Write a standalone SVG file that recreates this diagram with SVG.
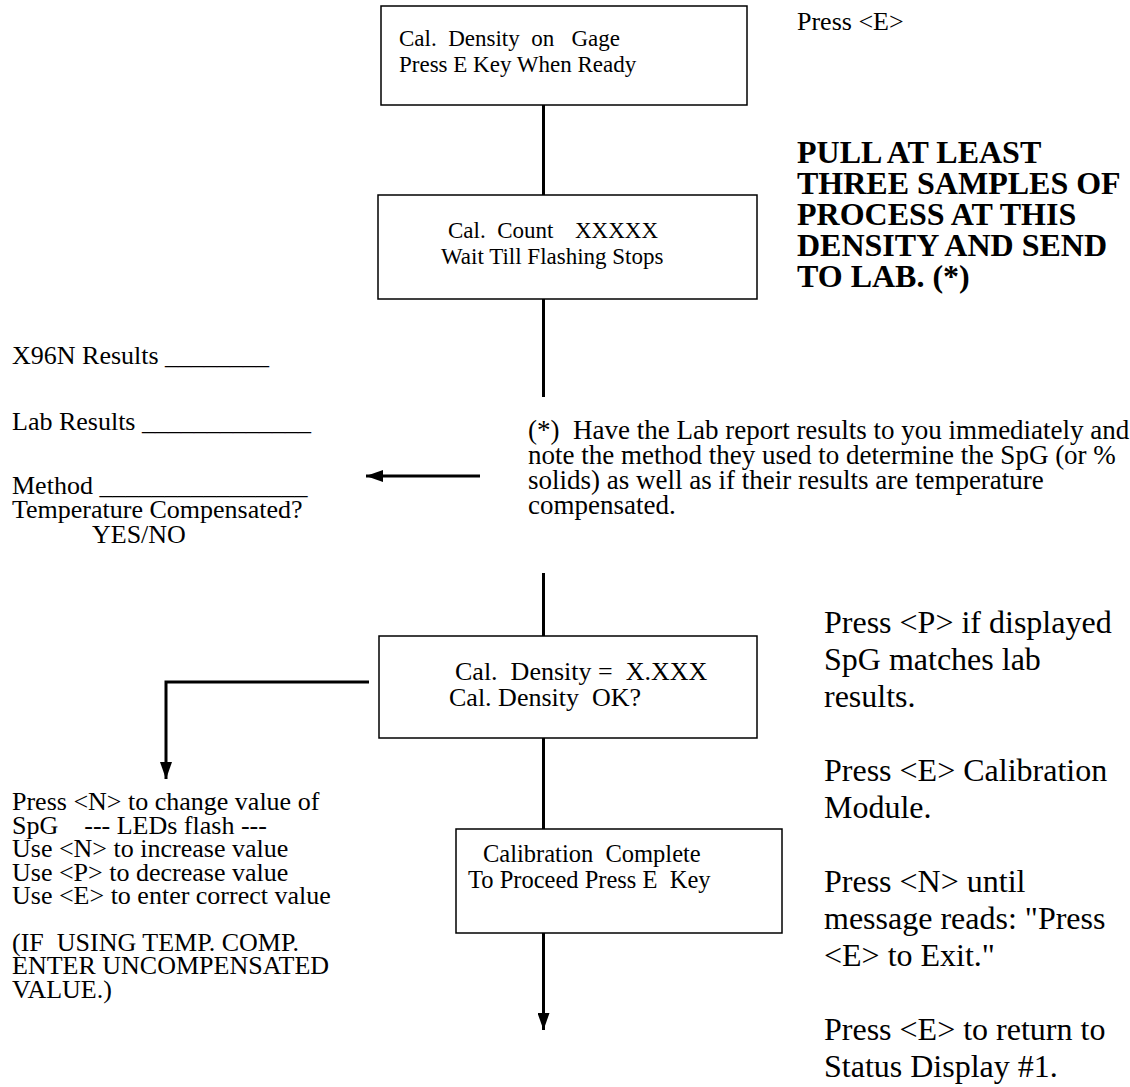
<svg xmlns="http://www.w3.org/2000/svg" width="1130" height="1087" viewBox="0 0 1130 1087">
  <style>
    text { font-family: "Liberation Serif", "Times New Roman", serif; fill: #000; }
    .box { fill: #fff; stroke: #000; stroke-width: 1.5; }
    .s23 { font-size: 23px; }
    .s24 { font-size: 24.5px; }
    .s26 { font-size: 26px; }
    .note { font-size: 26px; }
    .lab { font-size: 27px; }
    .big { font-size: 32px; }
    .bold { font-size: 32px; font-weight: bold; }
    .wire { fill: none; stroke: #000; stroke-width: 3; }
  </style>
  <defs>
    <marker id="head" markerWidth="18" markerHeight="12" refX="17" refY="6" orient="auto" markerUnits="userSpaceOnUse">
      <path d="M0,0 L17,6 L0,12 z" fill="#000"/>
    </marker>
  </defs>

  <rect width="1130" height="1087" fill="#fff"/>

  <!-- connectors -->
  <g id="connectors">
    <line class="wire" x1="543.5" y1="105" x2="543.5" y2="195"/>
    <line class="wire" x1="543.5" y1="299" x2="543.5" y2="397"/>
    <line class="wire" x1="543.5" y1="573" x2="543.5" y2="636"/>
    <line class="wire" x1="543.5" y1="738" x2="543.5" y2="829"/>
    <path class="wire" d="M543.5,933 V1030" marker-end="url(#head)"/>
    <path class="wire" d="M369,682 H166 V779" marker-end="url(#head)"/>
    <path class="wire" d="M480,476 H366" marker-end="url(#head)"/>
  </g>

  <!-- display screens -->
  <g id="node-start">
    <rect class="box" x="381" y="6" width="366" height="99"/>
    <text class="s23" x="399" y="46" xml:space="preserve">Cal.  Density  on   Gage</text>
    <text class="s23" x="399" y="72">Press E Key When Ready</text>
  </g>

  <g id="node-count">
    <rect class="box" x="378" y="195" width="379" height="104"/>
    <text class="s23" y="238" xml:space="preserve"><tspan x="448">Cal.  Count</tspan><tspan x="575">XXXXX</tspan></text>
    <text class="s23" x="441" y="264">Wait Till Flashing Stops</text>
  </g>

  <g id="node-density">
    <rect class="box" x="379" y="636" width="378" height="102"/>
    <text class="s26" x="455" y="680" xml:space="preserve">Cal.  Density =  X.XXX</text>
    <text class="s26" x="449" y="706" xml:space="preserve">Cal. Density  OK?</text>
  </g>

  <g id="node-complete">
    <rect class="box" x="456" y="829" width="326" height="104"/>
    <text class="s24" x="483" y="862" xml:space="preserve">Calibration  Complete</text>
    <text class="s24" x="468" y="888" xml:space="preserve">To Proceed Press E  Key</text>
  </g>

  <!-- instructions on the right -->
  <g id="note-press-e">
    <text class="note" x="797" y="30">Press &lt;E&gt;</text>
  </g>

  <g id="note-samples">
    <text class="bold" x="797" y="163">PULL AT LEAST</text>
    <text class="bold" x="797" y="194">THREE SAMPLES OF</text>
    <text class="bold" x="797" y="225">PROCESS AT THIS</text>
    <text class="bold" x="797" y="256">DENSITY AND SEND</text>
    <text class="bold" x="797" y="287">TO LAB. (*)</text>
  </g>

  <g id="note-lab">
    <text class="lab" x="528" y="439" xml:space="preserve">(*)  Have the Lab report results to you immediately and</text>
    <text class="lab" x="528" y="464">note the method they used to determine the SpG (or %</text>
    <text class="lab" x="528" y="489">solids) as well as if their results are temperature</text>
    <text class="lab" x="528" y="514">compensated.</text>
  </g>

  <g id="note-keys">
    <text class="big" x="824" y="633">Press &lt;P&gt; if displayed</text>
    <text class="big" x="824" y="670">SpG matches lab</text>
    <text class="big" x="824" y="707">results.</text>
    <text class="big" x="824" y="781">Press &lt;E&gt; Calibration</text>
    <text class="big" x="824" y="818">Module.</text>
    <text class="big" x="824" y="892">Press &lt;N&gt; until</text>
    <text class="big" x="824" y="929">message reads: "Press</text>
    <text class="big" x="824" y="966">&lt;E&gt; to Exit."</text>
    <text class="big" x="824" y="1040">Press &lt;E&gt; to return to</text>
    <text class="big" x="824" y="1077">Status Display #1.</text>
  </g>

  <!-- record sheet on the left -->
  <g id="note-results">
    <text class="note" x="12" y="364">X96N Results ________</text>
    <text class="note" x="12" y="430">Lab Results _____________</text>
    <text class="note" x="12" y="494">Method ________________</text>
    <text class="note" x="12" y="518">Temperature Compensated?</text>
    <text class="note" x="92" y="543">YES/NO</text>
  </g>

  <g id="note-change">
    <text class="note" x="12" y="810">Press &lt;N&gt; to change value of</text>
    <text class="note" x="12" y="834" xml:space="preserve">SpG    --- LEDs flash ---</text>
    <text class="note" x="12" y="857">Use &lt;N&gt; to increase value</text>
    <text class="note" x="12" y="881">Use &lt;P&gt; to decrease value</text>
    <text class="note" x="12" y="904">Use &lt;E&gt; to enter correct value</text>
    <text class="note" x="12" y="951" xml:space="preserve">(IF  USING TEMP. COMP.</text>
    <text class="note" x="12" y="974">ENTER UNCOMPENSATED</text>
    <text class="note" x="12" y="998">VALUE.)</text>
  </g>
</svg>
